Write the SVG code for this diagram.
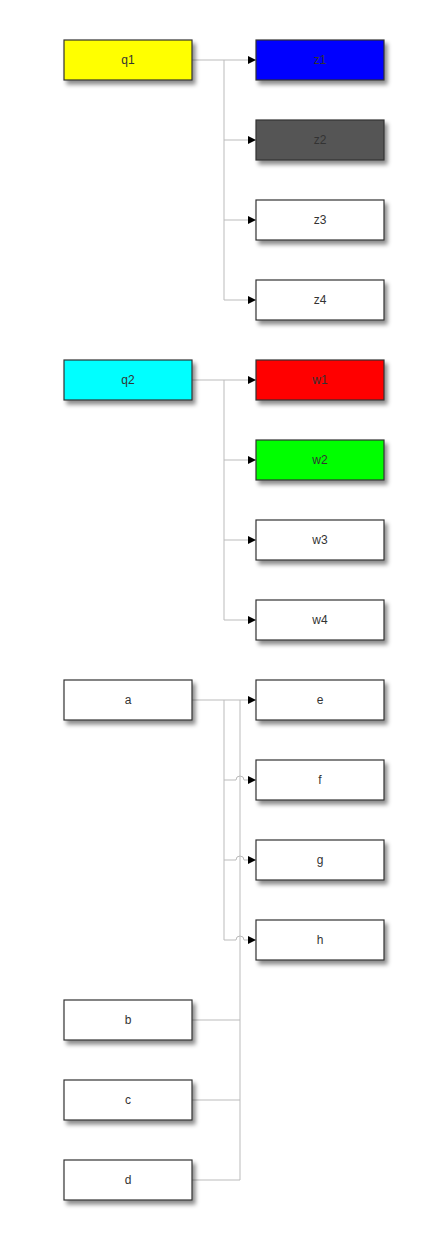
<svg xmlns="http://www.w3.org/2000/svg" width="448" height="1240" viewBox="0 0 448 1240">
<defs>
<filter id="sh" x="-10%" y="-20%" width="130%" height="160%">
<feDropShadow dx="3" dy="4" stdDeviation="2" flood-color="#000" flood-opacity="0.45"/>
</filter>
<marker id="ar" markerWidth="8" markerHeight="8" refX="8" refY="4" orient="auto" markerUnits="userSpaceOnUse">
<path d="M0,0 L8,4 L0,8 Z" fill="#000"/>
</marker>
<style>
.b{stroke:#333;stroke-width:1.2;filter:url(#sh)}
.t{font-family:"Liberation Sans",Arial,sans-serif;font-size:12px;fill:#333;text-anchor:middle;dominant-baseline:central}
.c{fill:none;stroke:#bbb;stroke-width:1}
</style>
</defs>
<rect width="448" height="1240" fill="#fff"/>
<g id="connectors">
<path class="c" d="M192,60 H256" marker-end="url(#ar)"/>
<path class="c" d="M224,60 V300"/>
<path class="c" d="M224,140 H256" marker-end="url(#ar)"/>
<path class="c" d="M224,220 H256" marker-end="url(#ar)"/>
<path class="c" d="M224,300 H256" marker-end="url(#ar)"/>
<path class="c" d="M192,380 H256" marker-end="url(#ar)"/>
<path class="c" d="M224,380 V620"/>
<path class="c" d="M224,460 H256" marker-end="url(#ar)"/>
<path class="c" d="M224,540 H256" marker-end="url(#ar)"/>
<path class="c" d="M224,620 H256" marker-end="url(#ar)"/>
<path class="c" d="M192,700 H256" marker-end="url(#ar)"/>
<path class="c" d="M224,700 V940"/>
<path class="c" d="M224,780 H236 A4,4 0 0 1 244,780 H256" marker-end="url(#ar)"/>
<path class="c" d="M224,860 H236 A4,4 0 0 1 244,860 H256" marker-end="url(#ar)"/>
<path class="c" d="M224,940 H236 A4,4 0 0 1 244,940 H256" marker-end="url(#ar)"/>
<path class="c" d="M192,1020 H240"/>
<path class="c" d="M192,1100 H240"/>
<path class="c" d="M192,1180 H240 V700"/>
</g>
<g id="q1"><rect class="b" x="64" y="40" width="128" height="40" fill="#ffff00"/><text class="t" x="128" y="60">q1</text></g>
<g id="z1"><rect class="b" x="256" y="40" width="128" height="40" fill="#0000ff"/><text class="t" x="320" y="60">z1</text></g>
<g id="z2"><rect class="b" x="256" y="120" width="128" height="40" fill="#555555"/><text class="t" x="320" y="140">z2</text></g>
<g id="z3"><rect class="b" x="256" y="200" width="128" height="40" fill="#ffffff"/><text class="t" x="320" y="220">z3</text></g>
<g id="z4"><rect class="b" x="256" y="280" width="128" height="40" fill="#ffffff"/><text class="t" x="320" y="300">z4</text></g>
<g id="q2"><rect class="b" x="64" y="360" width="128" height="40" fill="#00ffff"/><text class="t" x="128" y="380">q2</text></g>
<g id="w1"><rect class="b" x="256" y="360" width="128" height="40" fill="#ff0000"/><text class="t" x="320" y="380">w1</text></g>
<g id="w2"><rect class="b" x="256" y="440" width="128" height="40" fill="#00ff00"/><text class="t" x="320" y="460">w2</text></g>
<g id="w3"><rect class="b" x="256" y="520" width="128" height="40" fill="#ffffff"/><text class="t" x="320" y="540">w3</text></g>
<g id="w4"><rect class="b" x="256" y="600" width="128" height="40" fill="#ffffff"/><text class="t" x="320" y="620">w4</text></g>
<g id="a"><rect class="b" x="64" y="680" width="128" height="40" fill="#ffffff"/><text class="t" x="128" y="700">a</text></g>
<g id="e"><rect class="b" x="256" y="680" width="128" height="40" fill="#ffffff"/><text class="t" x="320" y="700">e</text></g>
<g id="f"><rect class="b" x="256" y="760" width="128" height="40" fill="#ffffff"/><text class="t" x="320" y="780">f</text></g>
<g id="g"><rect class="b" x="256" y="840" width="128" height="40" fill="#ffffff"/><text class="t" x="320" y="860">g</text></g>
<g id="h"><rect class="b" x="256" y="920" width="128" height="40" fill="#ffffff"/><text class="t" x="320" y="940">h</text></g>
<g id="b"><rect class="b" x="64" y="1000" width="128" height="40" fill="#ffffff"/><text class="t" x="128" y="1020">b</text></g>
<g id="c"><rect class="b" x="64" y="1080" width="128" height="40" fill="#ffffff"/><text class="t" x="128" y="1100">c</text></g>
<g id="d"><rect class="b" x="64" y="1160" width="128" height="40" fill="#ffffff"/><text class="t" x="128" y="1180">d</text></g>
</svg>
